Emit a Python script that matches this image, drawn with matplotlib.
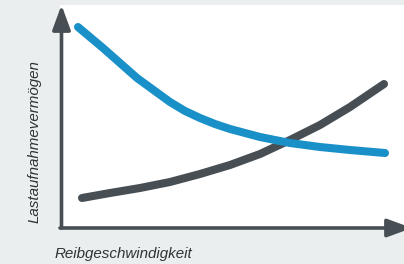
import matplotlib
matplotlib.use("Agg")
import matplotlib.pyplot as plt

# Data (arbitrary units)
blue_x = [18, 43, 77, 110, 125, 140, 155, 170, 200, 230, 260, 290, 325]
blue_y = [201, 180, 150, 126, 117, 110, 104, 99, 91, 85, 81, 78, 75]
gray_x = [22, 50, 80, 110, 140, 170, 200, 230, 260, 290, 324]
gray_y = [30, 35, 40, 46, 54, 63, 74, 88, 103, 121, 144]

x_label = "Reibgeschwindigkeit"
y_label = "Lastaufnahmevermögen"

BG = "#ebeeef"
AX = "#474f54"
BLUE = "#1a90c8"
GRAY = "#474f54"

W, H = 404, 264
fig = plt.figure(figsize=(W / 100, H / 100), dpi=100, facecolor=BG)
ax = fig.add_axes([60 / W, 36 / H, 344 / W, 223 / H], facecolor="white")
ax.set_xlim(0, 344)
ax.set_ylim(0, 223)
for s in ax.spines.values():
    s.set_visible(False)
ax.set_xticks([])
ax.set_yticks([])

ax.plot(blue_x, blue_y, color=BLUE, lw=5.8, solid_capstyle="round",
        solid_joinstyle="round", zorder=3)
ax.plot(gray_x, gray_y, color=GRAY, lw=5.8, solid_capstyle="round",
        solid_joinstyle="round", zorder=2)

arrow = dict(arrowstyle="-|>,head_length=1.5,head_width=0.55", lw=2.6,
             color=AX, mutation_scale=10, shrinkA=0, shrinkB=0)
ax.annotate("", xy=(1.5, 223), xytext=(1.5, 0), xycoords="data",
            arrowprops=arrow, annotation_clip=False)
ax.annotate("", xy=(352, 0), xytext=(0, 0), xycoords="data",
            arrowprops=arrow, annotation_clip=False)

font = dict(family=["Liberation Sans", "DejaVu Sans"], style="italic",
            size=10.9, color="#2f3336")
fig.text(55 / W, 1 - 254 / H, x_label, ha="left", va="center", **font)
fig.text(35 / W, 1 - 142 / H, y_label, ha="center", va="center",
         rotation=90, **font)

fig.savefig("out.png", dpi=100, facecolor=BG)
